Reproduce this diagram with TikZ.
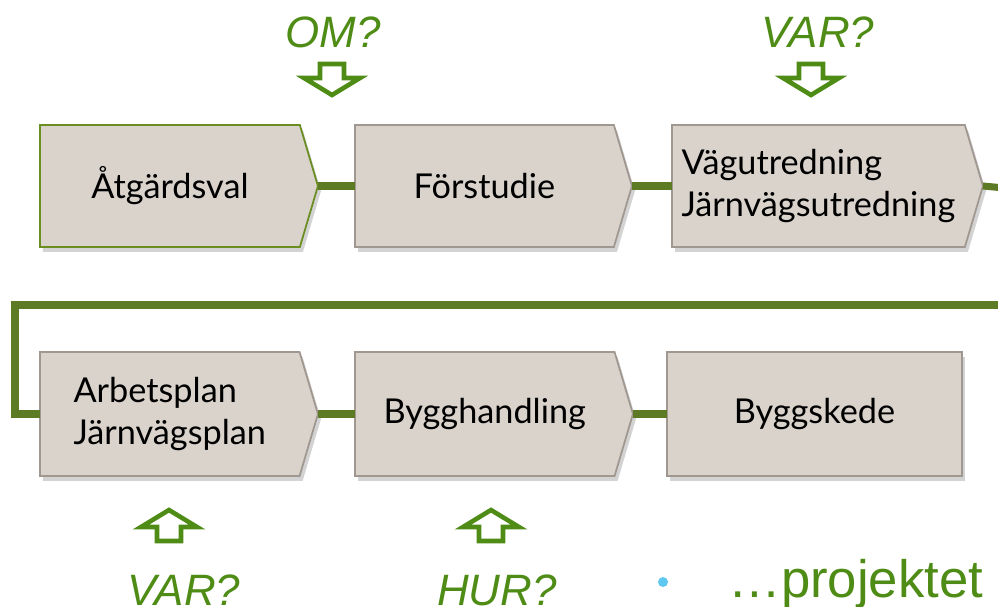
\documentclass[tikz,border=0pt]{standalone}
\usepackage{fontspec}
\setmainfont{Lato}
\newfontfamily\labelfont{Liberation Sans}
\usetikzlibrary{shapes.symbols,shadows}
\definecolor{boxfill}{RGB}{217,211,204}
\definecolor{boxline}{RGB}{160,152,144}
\definecolor{firstline}{RGB}{107,142,35}
\definecolor{linkgreen}{RGB}{93,123,36}
\definecolor{askgreen}{RGB}{78,140,22}
\definecolor{dotblue}{RGB}{95,200,240}
\begin{document}
\begin{tikzpicture}[x=0.02cm, y=-0.02cm,
    phase/.style = {draw=boxline, line width=1pt, fill=boxfill, outer sep=0pt,
      font=\fontsize{19.5}{24}\selectfont, align=left, anchor=west,
      drop shadow={opacity=0.35, shadow xshift=0.06cm, shadow yshift=-0.1cm}},
    arrowbox/.style = {phase, shape=signal, signal to=east, signal pointer angle=147,
      minimum height=2.44cm},
    link/.style = {draw=linkgreen, line width=4pt},
    hollow/.style = {draw=askgreen, line width=2.6pt, fill=white, line join=miter},
    ask/.style = {text=askgreen, font=\labelfont\itshape\fontsize{25}{30}\selectfont}]
  \useasboundingbox (0,0) rectangle (998,606);

  % first row
  \node[arrowbox, draw=firstline, minimum width=5.56cm] (aval) at (40,186) {Åtgärdsval};
  \node[arrowbox, minimum width=5.54cm] (fstud) at (355,186) {Förstudie};
  \node[arrowbox, minimum width=6.22cm] (vutr) at (672,186) {Vägutredning\\Järnvägsutredning};

  % second row
  \node[arrowbox, minimum width=5.56cm, minimum height=2.48cm] (aplan) at (40,414) {Arbetsplan\\Järnvägsplan};
  \node[arrowbox, minimum width=5.56cm, minimum height=2.48cm] (bhand) at (355,414) {Bygghandling};
  \node[phase, minimum width=5.9cm, minimum height=2.48cm] (bskede) at (667,414) {Byggskede};

  \coordinate (rowend) at (1005,188);
  \coordinate (backin) at (1005,305);
  \coordinate (backcorner) at (15,305);

  \draw[link] (aval.east) -- (fstud.west);
  \draw[link] (fstud.east) -- (vutr.west);
  \draw[link] (vutr.east) -- (rowend);
  \draw[link] (backin) -- (backcorner) |- (aplan.west);
  \draw[link] (aplan.east) -- (bhand.west);
  \draw[link] (bhand.east) -- (bskede.west);

  % questions
  \node[ask] (om) at (333,32) {OM?};
  \node[ask] (var1) at (818,32) {VAR?};
  \node[ask] (var2) at (184,590) {VAR?};
  \node[ask] (hur) at (497,590) {HUR?};

  \draw[hollow] (332,95) -- ++(-28,-17) -- ++(16,0) -- ++(0,-14) -- ++(24,0) -- ++(0,14) -- ++(16,0) -- cycle;
  \draw[hollow] (811,95) -- ++(-28,-17) -- ++(16,0) -- ++(0,-14) -- ++(24,0) -- ++(0,14) -- ++(16,0) -- cycle;
  \draw[hollow] (169,510) -- ++(-28,17) -- ++(16,0) -- ++(0,14) -- ++(24,0) -- ++(0,-14) -- ++(16,0) -- cycle;
  \draw[hollow] (491,510) -- ++(-28,17) -- ++(16,0) -- ++(0,14) -- ++(24,0) -- ++(0,-14) -- ++(16,0) -- cycle;

  % bullet
  \fill[dotblue] (663,582) circle (5);
  \node[anchor=base west, inner sep=0pt, text=askgreen, font=\labelfont\fontsize{30}{36}\selectfont] (proj) at (728,597) {\dots projektet};
\end{tikzpicture}
\end{document}
